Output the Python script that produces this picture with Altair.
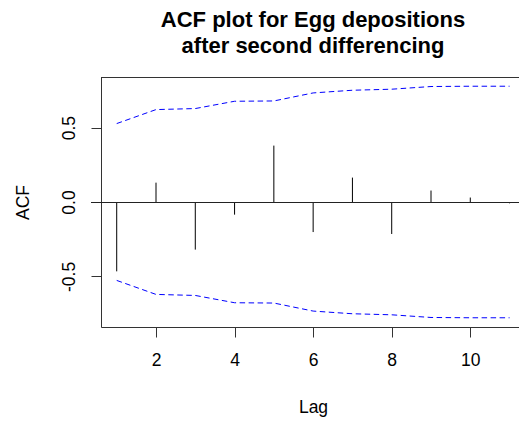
import altair as alt
import pandas as pd

lags = [1, 2, 3, 4, 5, 6, 7, 8, 9, 10, 11]
acf_values = [-0.466, 0.130, -0.320, -0.085, 0.379, -0.202, 0.164, -0.215, 0.077, 0.030, -0.009]
ci_upper = [0.527, 0.621, 0.628, 0.677, 0.679, 0.733, 0.751, 0.758, 0.776, 0.778, 0.778]
ci_lower = [-v for v in ci_upper]
x_ticks = [2, 4, 6, 8, 10]
y_ticks = [-0.5, 0.0, 0.5]
title_lines = ["ACF plot for Egg depositions", "after second differencing"]

df = pd.DataFrame({"lag": lags, "acf": acf_values, "zero": [0.0] * len(lags),
                   "upper": ci_upper, "lower": ci_lower})

FONT = "Liberation Sans"
XDOM = [0.6, 11.24]
YDOM = [-0.84, 0.84]
W, H = 418, 250

xenc = alt.X("lag:Q", scale=alt.Scale(domain=XDOM, nice=False, zero=False),
             axis=alt.Axis(values=x_ticks, title="Lag", grid=False, labelFont=FONT,
                           titleFont=FONT, labelFontSize=17.5, titleFontSize=17.5,
                           titleFontWeight="normal", labelColor="#000", titleColor="#000",
                           domainColor="#333", tickColor="#333", tickSize=10,
                           labelPadding=14, titlePadding=30, titleX=212, labelFlush=False))
yscale = alt.Scale(domain=YDOM, nice=False, zero=False)
yaxis = alt.Axis(values=y_ticks, title="ACF", grid=False, labelFont=FONT, titleFont=FONT,
                 labelFontSize=17.5, titleFontSize=17.5, titleFontWeight="normal",
                 labelColor="#000", titleColor="#000", domainColor="#333", tickColor="#333",
                 tickSize=10, labelAngle=-90, labelPadding=13, titlePadding=28,
                 format=".1f", labelExpr="replace(datum.label, '\u2212', '-')",
                 labelFlush=False)

base = alt.Chart(df)

spikes = base.mark_rule(color="#000", strokeWidth=1).encode(
    x=xenc,
    y=alt.Y("zero:Q", scale=yscale, axis=yaxis),
    y2="acf:Q",
)

zero_line = base.mark_rule(color="#222", strokeWidth=1, yOffset=0.5).encode(
    x=alt.value(-10), x2=alt.value(W), y=alt.Y("zero:Q", scale=yscale)
)

top_line = base.mark_rule(color="#333", strokeWidth=1).encode(
    x=alt.value(0), x2=alt.value(W), y=alt.value(0.5)
)

upper = base.mark_line(color="#0000ff", strokeWidth=1, strokeDash=[5.5, 3.5]).encode(
    x="lag:Q", y=alt.Y("upper:Q", scale=yscale)
)
lower = base.mark_line(color="#0000ff", strokeWidth=1, strokeDash=[5.5, 3.5]).encode(
    x="lag:Q", y=alt.Y("lower:Q", scale=yscale)
)

chart = alt.layer(spikes, zero_line, top_line, upper, lower).properties(
    width=W, height=H,
    title=alt.TitleParams(text=title_lines, font=FONT, fontSize=22, fontWeight="bold",
                          color="#000", anchor="middle", lineHeight=26, offset=19, dx=3),
    autosize=alt.AutoSizeParams(type="none"),
    padding={"left": 101, "top": 77, "right": 0, "bottom": 96},
).configure_view(stroke=None).configure(background="white")

chart.save("out.html", embed_options={"renderer": "svg", "actions": False})
